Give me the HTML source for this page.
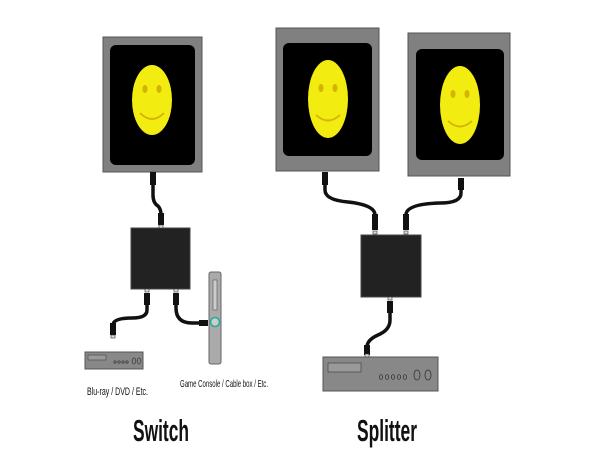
<!DOCTYPE html>
<html><head><style>html,body{margin:0;padding:0;background:#fff;width:600px;height:470px;overflow:hidden}</style></head>
<body>
<svg width="600" height="470" viewBox="0 0 600 470" xmlns="http://www.w3.org/2000/svg" font-family="Liberation Sans, sans-serif">
<defs>
<g id="face">
</g>
</defs>
<!-- monitors -->
<rect x="103" y="37" width="99" height="135" fill="#808080" stroke="#555" stroke-width="1"/>
<rect x="110" y="45" width="85" height="120" rx="6" fill="#000"/>
<ellipse cx="152" cy="100" rx="20" ry="35" fill="#f2ec10"/>
<ellipse cx="145" cy="89" rx="2.5" ry="4" fill="#d4b400"/><ellipse cx="159" cy="89" rx="2.5" ry="4" fill="#d4b400"/>
<path d="M140 113 Q152 125 164 113" stroke="#d4b400" stroke-width="1.8" fill="none"/>

<rect x="276" y="28" width="103" height="143" fill="#808080" stroke="#555"/>
<rect x="283" y="43" width="89" height="113" rx="6" fill="#000"/>
<ellipse cx="328" cy="99" rx="20" ry="39" fill="#f2ec10"/>
<ellipse cx="321" cy="88" rx="2.5" ry="4" fill="#d4b400"/><ellipse cx="335" cy="88" rx="2.5" ry="4" fill="#d4b400"/>
<path d="M316 115 Q328 126 340 115" stroke="#d4b400" stroke-width="1.8" fill="none"/>

<rect x="408" y="33" width="102" height="143" fill="#808080" stroke="#555"/>
<rect x="416" y="49" width="88" height="111" rx="6" fill="#000"/>
<ellipse cx="460" cy="105" rx="20" ry="39" fill="#f2ec10"/>
<ellipse cx="453" cy="94" rx="2.5" ry="4" fill="#d4b400"/><ellipse cx="467" cy="94" rx="2.5" ry="4" fill="#d4b400"/>
<path d="M448 121 Q460 132 472 121" stroke="#d4b400" stroke-width="1.8" fill="none"/>

<!-- boxes -->
<rect x="131" y="228" width="59" height="61" fill="#222" stroke="#444"/>
<rect x="361" y="235" width="60" height="62" fill="#222" stroke="#444"/>

<!-- cables -->
<g stroke="#111" stroke-width="3.5" fill="none" stroke-linecap="round">
<path d="M153 185 L153 195 Q153 203 158 206 Q161 209 161 215"/>
<path d="M147 302 L147 310 Q147 318 132 318 Q113 318 113 325"/>
<path d="M176 302 L176 308 Q176 323 192 323 L203 323"/>
<path d="M325 183 L325 190 Q325 200 348 202 Q375 205 375 215"/>
<path d="M461 188 L461 193 Q461 203 440 203 Q406 204 406 215"/>
<path d="M390 312 L390 320 Q390 330 378 335 Q367 340 367 347"/>
</g>
<g fill="#111">
<rect x="150" y="172" width="6" height="13"/><rect x="158" y="213" width="6" height="12"/>
<rect x="144" y="293" width="6" height="12"/><rect x="110" y="323" width="6" height="12"/>
<rect x="173" y="293" width="6" height="12"/><rect x="199" y="320" width="9" height="6"/>
<rect x="322" y="172" width="6" height="13"/><rect x="372" y="214" width="6" height="16"/>
<rect x="458" y="178" width="6" height="12"/><rect x="403" y="214" width="6" height="16"/>
<rect x="387" y="301" width="6" height="12"/><rect x="364" y="345" width="6" height="10"/>
</g>
<g fill="#ddd" stroke="#333" stroke-width="0.6">
<rect x="159" y="225" width="4" height="3"/><rect x="145" y="289" width="4" height="3"/><rect x="174" y="289" width="4" height="3"/>
<rect x="111" y="335" width="4" height="3"/><rect x="373" y="231" width="4" height="3"/><rect x="404" y="231" width="4" height="3"/>
<rect x="388" y="297" width="4" height="3"/><rect x="365" y="354" width="4" height="3"/>
</g>

<!-- console -->
<rect x="209" y="272" width="12" height="92" rx="2" fill="#aaa" stroke="#666"/>
<rect x="213" y="280" width="4" height="30" fill="#ccc" stroke="#555" stroke-width="0.6"/>
<circle cx="215" cy="322" r="4.5" fill="#ccc" stroke="#2a9" stroke-width="1.5"/>

<!-- dvd -->
<rect x="85" y="352" width="58" height="17" fill="#888" stroke="#555"/>
<rect x="88" y="355" width="18" height="5" fill="#999" stroke="#444" stroke-width="0.6"/>
<g fill="none" stroke="#333" stroke-width="0.7"><circle cx="115" cy="362" r="1.2"/><circle cx="119" cy="362" r="1.2"/><circle cx="123" cy="362" r="1.2"/><circle cx="127" cy="362" r="1.2"/><ellipse cx="134" cy="361" rx="1.8" ry="3"/><ellipse cx="139" cy="361" rx="1.8" ry="3"/></g>

<!-- splitter player -->
<rect x="323" y="357" width="115" height="34" fill="#888" stroke="#555"/>
<rect x="328" y="363" width="33" height="9" fill="#999" stroke="#444" stroke-width="0.7"/>
<g fill="none" stroke="#333" stroke-width="0.8"><ellipse cx="381" cy="377" rx="1.6" ry="2.4"/><ellipse cx="387" cy="377" rx="1.6" ry="2.4"/><ellipse cx="393" cy="377" rx="1.6" ry="2.4"/><ellipse cx="399" cy="377" rx="1.6" ry="2.4"/><ellipse cx="405" cy="377" rx="1.6" ry="2.4"/><ellipse cx="417" cy="375" rx="3" ry="5"/><ellipse cx="428" cy="375" rx="3" ry="5"/></g>

<!-- labels -->
<text x="87" y="395" font-size="11" textLength="61" lengthAdjust="spacingAndGlyphs" fill="#111">Blu-ray / DVD / Etc.</text>
<text x="180" y="387" font-size="10.5" textLength="88" lengthAdjust="spacingAndGlyphs" fill="#111">Game Console / Cable box / Etc.</text>
<text x="133" y="441" font-size="31" font-weight="bold" textLength="56" lengthAdjust="spacingAndGlyphs" fill="#111">Switch</text>
<text x="357" y="441" font-size="31" font-weight="bold" textLength="60" lengthAdjust="spacingAndGlyphs" fill="#111">Splitter</text>
</svg>
</body></html>
